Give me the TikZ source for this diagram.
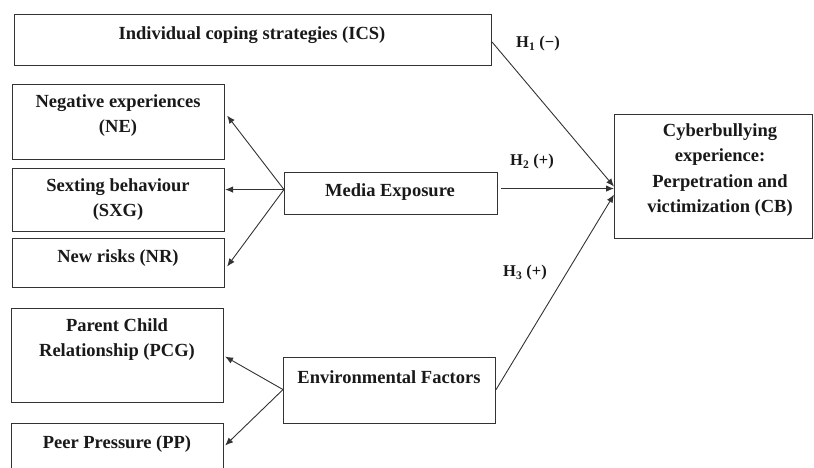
\documentclass[tikz,border=0pt]{standalone}
\usepackage{fontspec}
\setmainfont{Liberation Serif}
\usetikzlibrary{arrows.meta,calc}
\begin{document}
\begin{tikzpicture}[x=1pt,y=-1pt,
  box/.style={draw=black!80,line width=1.1pt,rectangle,anchor=north west,inner sep=0pt},
  txt/.style={font=\bfseries\fontsize{18.5}{25.5}\selectfont,align=center,inner sep=0pt,text=black!90},
  lbl/.style={font=\bfseries\fontsize{16.5}{18}\selectfont,inner sep=0pt,text=black!90},
  conn/.style={draw=black!80,line width=0.9pt,-{Latex[length=8pt,width=6.5pt]}}]
\useasboundingbox (0,0) rectangle (814,468);
% boxes
\node[box,minimum width=477pt,minimum height=51pt] (ics) at (14,14) {};
\node[box,minimum width=212pt,minimum height=75pt] (ne) at (12,84) {};
\node[box,minimum width=212pt,minimum height=63pt] (sxg) at (12,168) {};
\node[box,minimum width=212pt,minimum height=49pt] (nr) at (12,238) {};
\node[box,minimum width=212pt,minimum height=94pt] (pcg) at (11,308) {};
\node[box,minimum width=212pt,minimum height=60pt] (pp) at (11,423) {};
\node[box,minimum width=213pt,minimum height=42pt] (me) at (284,172) {};
\node[box,minimum width=212pt,minimum height=66pt] (ef) at (283,357) {};
\node[box,minimum width=198pt,minimum height=124pt] (cb) at (614,114) {};
% texts
\node[txt] (icsT) at (252,35) {Individual coping strategies (ICS)};
\node[txt,anchor=north] (neT) at (118,94) {Negative experiences\\(NE)};
\node[txt,anchor=north] (sxgT) at (118,178) {Sexting behaviour\\(SXG)};
\node[txt] (nrT) at (118,258) {New risks (NR)};
\node[txt,anchor=north] (pcgT) at (117,318) {Parent Child\\Relationship (PCG)};
\node[txt] (ppT) at (117,444) {Peer Pressure (PP)};
\node[txt] (meT) at (390,192) {Media Exposure};
\node[txt] (efT) at (389,377) {Environmental Factors};
\node[txt,anchor=north] (cbT) at (720,123) {Cyberbullying\\experience:\\Perpetration and\\victimization (CB)};
% labels
\node[lbl,anchor=west] (h1) at (516,44) {H\textsubscript{1} (−)};
\node[lbl,anchor=west] (h2) at (510,162) {H\textsubscript{2} (+)};
\node[lbl,anchor=west] (h3) at (503,273) {H\textsubscript{3} (+)};
% connectors
\draw[conn] ([yshift=-2pt]ics.east) -- ([yshift=-10pt]cb.west);
\draw[conn] ([xshift=3pt,yshift=5pt]me.east) -- ([yshift=-12pt]cb.west);
\draw[conn] ([yshift=1pt]ef.east) -- ([yshift=-18pt]cb.west);
\coordinate (mef) at ([yshift=4pt]me.west);
\draw[conn] (mef) -- ([xshift=2pt,yshift=6.5pt]ne.east);
\draw[conn] (mef) -- ([yshift=10.5pt]sxg.east);
\draw[conn] (mef) -- ([xshift=2pt,yshift=-3.5pt]nr.east);
\coordinate (eff) at ([yshift=1pt]ef.west);
\draw[conn] (eff) -- ([xshift=1pt,yshift=-1pt]pcg.east);
\draw[conn] (eff) -- ([xshift=1pt,yshift=8pt]pp.east);
\end{tikzpicture}
\end{document}
